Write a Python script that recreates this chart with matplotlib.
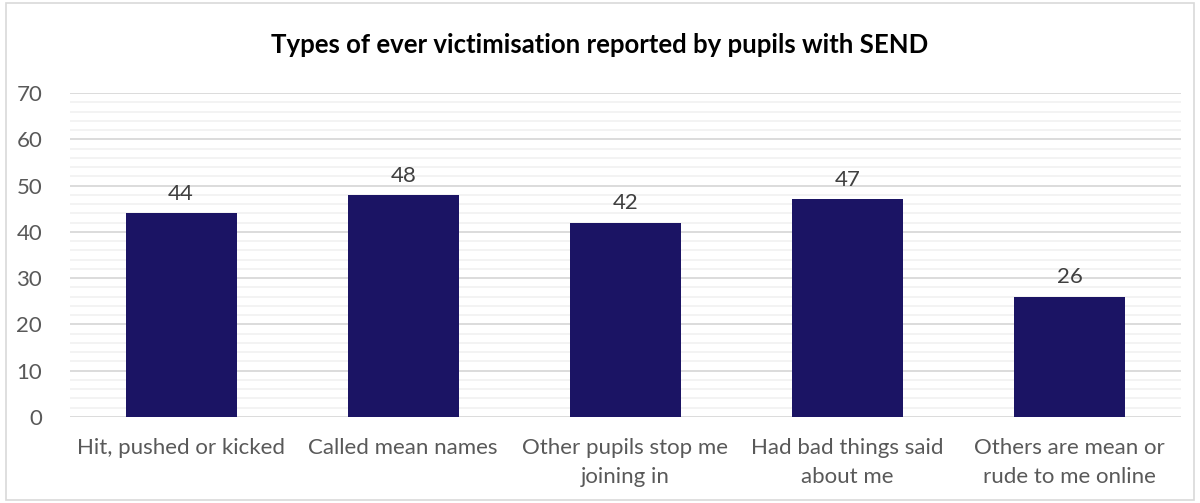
import matplotlib.pyplot as plt
import matplotlib.patches as mpatches
from matplotlib.ticker import MultipleLocator

categories = ["Hit, pushed or kicked", "Called mean names", "Other pupils stop me\njoining in",
              "Had bad things said\nabout me", "Others are mean or\nrude to me online"]
values = [44, 48, 42, 47, 26]

plt.rcParams["font.family"] = ["Lato", "DejaVu Sans"]

fig = plt.figure(figsize=(12, 5.03), dpi=100)
ax = fig.add_axes([0.0583, 0.171, 0.9257, 0.644])

x = range(len(categories))
bars = ax.bar(x, values, width=0.5, color="#1B1464", zorder=3)
for b, v in zip(bars, values):
    ax.text(b.get_x() + b.get_width() / 2, v + 2.0, str(v), ha="center", va="bottom",
            fontsize=16, color="#404040")

ax.set_xlim(-0.5, len(categories) - 0.5)
ax.set_ylim(0, 70)
ax.yaxis.set_major_locator(MultipleLocator(10))
ax.yaxis.set_minor_locator(MultipleLocator(2))
ax.grid(axis="y", which="major", color="#D9D9D9", linewidth=1.3, zorder=0)
ax.grid(axis="y", which="minor", color="#F2F2F2", linewidth=1.3, zorder=0)
for s in ax.spines.values():
    s.set_visible(False)
ax.tick_params(axis="both", which="both", length=0, labelsize=16, labelcolor="#595959")
ax.tick_params(axis="y", pad=20)
ax.tick_params(axis="x", pad=15)
ax.set_xticks(list(x))
ax.set_xticklabels(categories, linespacing=1.6)

fig.text(0.5, 0.91, "Types of ever victimisation reported by pupils with SEND", ha="center",
         va="center", fontsize=18.5, fontweight="bold", color="black")

fig.patches.append(mpatches.Rectangle((0.005, 0.005), 0.99, 0.99, transform=fig.transFigure,
                                      fill=False, edgecolor="#D9D9D9", linewidth=1.2))

fig.savefig("out.png", dpi=100)
